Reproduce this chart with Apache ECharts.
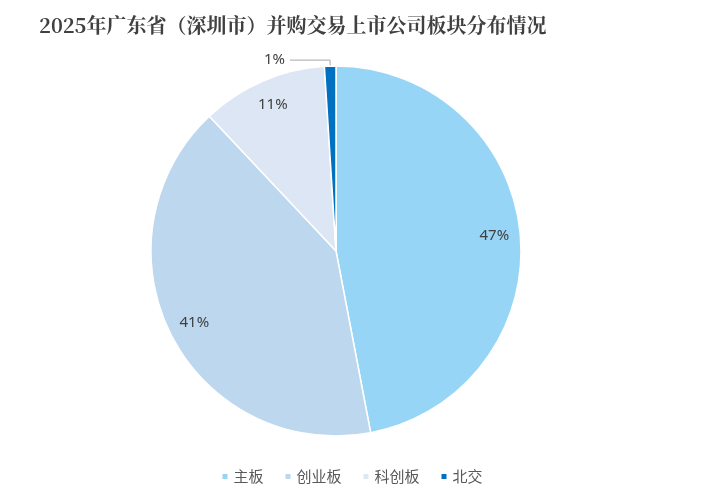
<!DOCTYPE html>
<html><head><meta charset="utf-8">
<script src="https://cdn.jsdelivr.net/npm/echarts@6/dist/echarts.min.js"></script>
<style>html,body{margin:0;padding:0;background:#fff}#c{width:703px;height:503px}</style>
</head><body><div id="c"></div>
<script>
const categories = ['主板','创业板','科创板','北交'];
const values = [47, 41, 11, 1];
const colors = ['#97D5F7','#BDD7EE','#DDE6F4','#0070C0'];
const chart = echarts.init(document.getElementById('c'));
chart.setOption({
  animation:false,
  title:{text:'2025年广东省（深圳市）并购交易上市公司板块分布情况',left:34,top:10,
    textStyle:{fontFamily:'Noto Serif CJK SC, Noto Sans CJK SC',fontWeight:'bold',fontSize:20,color:'#404040'}},
  legend:{bottom:14,left:'center',icon:'rect',itemWidth:7,itemHeight:7,itemGap:20,
    textStyle:{fontFamily:'Noto Sans CJK SC',fontSize:15,color:'#595959'},data:categories},
  series:[{type:'pie',center:[336,251],radius:[0,185],startAngle:90,clockwise:true,
    itemStyle:{borderColor:'#fff',borderWidth:1.5},
    label:{show:false},
    data:categories.map((n,i)=>{
      const d={name:n,value:values[i],itemStyle:{color:colors[i]}};
      if(i===3){d.label={show:true,position:'outside',formatter:'1%',fontSize:15,color:'#404040',fontFamily:'Noto Sans'};d.labelLine={show:true,length:6,length2:40,lineStyle:{color:'#a6a6a6'}};}
      return d;})
  },{type:'pie',center:[336,251],radius:[0,312],startAngle:90,clockwise:true,silent:true,
    itemStyle:{color:'rgba(0,0,0,0)'},
    label:{position:'inside',formatter:'{d}%',fontSize:15,color:'#404040',fontFamily:'Noto Sans'},
    data:categories.map((n,i)=>({name:n,value:values[i],label:{show:i<3}}))
  }]
});
</script></body></html>
